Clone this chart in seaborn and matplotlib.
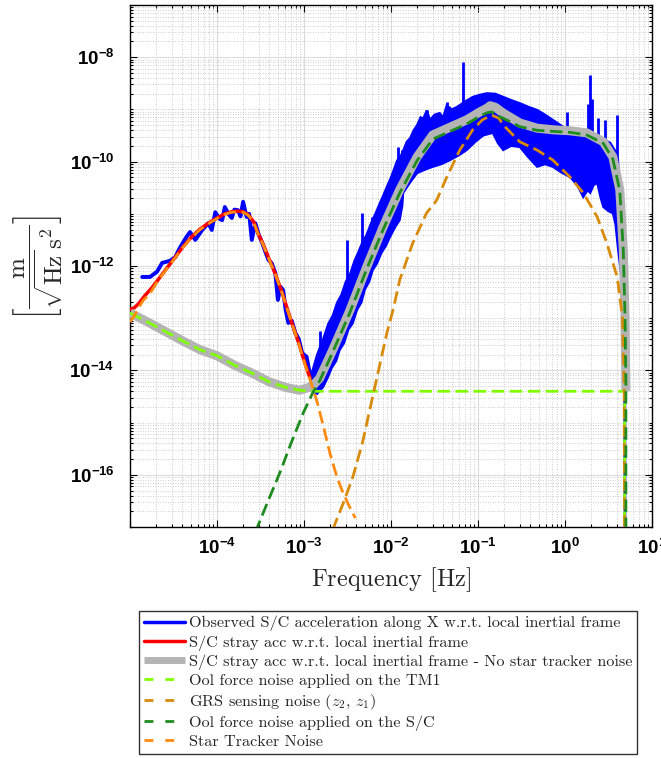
import numpy as np
import seaborn as sns
import matplotlib.pyplot as plt
from matplotlib.lines import Line2D
from matplotlib.ticker import FixedLocator, FuncFormatter, NullFormatter
from matplotlib.font_manager import FontProperties

# All values below are log10 numbers:
# frequency in Hz, amplitude spectral density in m / (sqrt(Hz) s^2)

# Observed S/C acceleration, low-frequency part (single wiggly line)
obs_low_f = [-4.86, -4.77, -4.69, -4.63, -4.54, -4.48, -4.43, -4.35, -4.31, -4.25,
             -4.17, -4.10, -4.06, -4.02, -3.97, -3.94, -3.91, -3.87, -3.83, -3.80,
             -3.76, -3.73, -3.70, -3.66, -3.63, -3.60, -3.56, -3.52, -3.48, -3.45,
             -3.41, -3.37, -3.33, -3.30, -3.27, -3.24, -3.21, -3.18, -3.14, -3.10,
             -3.06, -3.02, -2.97, -2.94, -2.91, -2.90, -2.87]
obs_low_v = [-12.21, -12.21, -12.11, -11.94, -11.90, -11.83, -11.66, -11.44, -11.35, -11.50,
             -11.31, -11.18, -11.31, -10.97, -11.10, -11.12, -10.87, -11.00, -11.08, -10.92,
             -10.93, -11.05, -10.77, -11.06, -11.00, -11.50, -11.18, -11.40, -11.56, -11.70,
             -11.88, -11.95, -12.13, -12.65, -12.40, -12.46, -12.85, -13.09, -13.05, -13.28,
             -13.40, -13.67, -13.74, -14.00, -14.13, -14.38, -14.10]

# Observed S/C acceleration, noisy band (upper / lower envelope)
obs_up_f = [-2.92, -2.85, -2.78, -2.72, -2.67, -2.62, -2.57, -2.52, -2.47, -2.42,
            -2.38, -2.33, -2.28, -2.23, -2.18, -2.13, -2.09, -2.04, -2.00, -1.96,
            -1.93, -1.89, -1.85, -1.82, -1.78, -1.74, -1.70, -1.66, -1.63, -1.59,
            -1.55, -1.50, -1.44, -1.40, -1.36, -1.30, -1.24, -1.15, -1.06, -0.98,
            -0.90, -0.80, -0.71, -0.62, -0.52, -0.42, -0.32, -0.23, -0.14, -0.05,
            0.02, 0.10, 0.21, 0.30, 0.37, 0.45, 0.52, 0.58, 0.61, 0.63,
            0.65, 0.67, 0.69, 0.695]
obs_up_v = [-14.10, -13.70, -13.40, -13.10, -12.95, -12.70, -12.55, -12.30, -12.15, -11.90,
            -11.75, -11.55, -11.40, -11.18, -11.00, -10.80, -10.65, -10.45, -10.30, -10.12,
            -9.98, -9.90, -9.75, -9.62, -9.55, -9.40, -9.30, -9.15, -9.18, -9.02,
            -9.20, -9.10, -9.07, -9.15, -8.92, -9.00, -8.95, -8.85, -8.76, -8.72,
            -8.69, -8.70, -8.76, -8.82, -8.88, -8.95, -9.01, -9.10, -9.20, -9.30,
            -9.38, -9.45, -9.40, -9.48, -9.53, -9.58, -9.64, -9.80, -9.97, -10.74,
            -11.69, -12.33, -13.50, -20.0]
obs_lo_f = [-2.92, -2.85, -2.78, -2.73, -2.68, -2.63, -2.59, -2.54, -2.49, -2.44,
            -2.39, -2.34, -2.30, -2.25, -2.21, -2.16, -2.11, -2.06, -2.01, -1.95,
            -1.90, -1.87, -1.86, -1.78, -1.70, -1.60, -1.52, -1.42, -1.32, -1.22,
            -1.13, -1.03, -0.94, -0.83, -0.77, -0.71, -0.62, -0.52, -0.42, -0.32,
            -0.23, -0.14, -0.05, 0.06, 0.14, 0.21, 0.26, 0.29, 0.33, 0.37,
            0.41, 0.44, 0.50, 0.55, 0.58, 0.61, 0.64, 0.66, 0.68, 0.69]
obs_lo_v = [-14.38, -14.45, -14.32, -14.15, -13.95, -13.82, -13.61, -13.48, -13.22, -13.10,
            -12.84, -12.70, -12.45, -12.30, -12.08, -11.95, -11.75, -11.62, -11.44, -11.25,
            -11.12, -10.85, -10.60, -10.40, -10.22, -10.15, -10.10, -10.05, -9.97, -9.88,
            -9.78, -9.62, -9.50, -9.45, -9.65, -9.78, -9.70, -9.72, -9.92, -10.10,
            -10.05, -10.10, -10.20, -10.30, -10.45, -10.68, -10.55, -10.60, -10.45, -10.41,
            -10.70, -10.87, -10.95, -10.99, -11.20, -11.69, -12.10, -12.33, -13.50, -20.0]

# Observed S/C acceleration, narrow spectral lines sticking out of the band
spike_f = [-2.82, -2.51, -2.33, -2.22, -1.92, -1.87, -1.72, -1.59, -1.47, -1.36,
           -1.17, 0.02, 0.27, 0.29, 0.31, 0.38, 0.46, 0.60]
spike_base = [-14.20, -13.00, -12.30, -11.90, -10.80, -10.60, -10.00, -9.60, -9.60, -9.40,
              -9.30, -9.80, -10.00, -10.00, -10.00, -10.00, -10.20, -10.30]
spike_top = [-13.25, -11.50, -10.98, -11.06, -9.72, -9.78, -9.55, -9.01, -9.20, -8.86,
             -8.09, -9.05, -8.90, -8.34, -8.80, -9.16, -9.20, -9.11]

# S/C stray acceleration w.r.t. local inertial frame
stray_f = [-5.00, -4.95, -4.90, -4.83, -4.75, -4.68, -4.58, -4.48, -4.39, -4.29,
           -4.20, -4.10, -4.00, -3.91, -3.83, -3.76, -3.70, -3.64, -3.58, -3.53,
           -3.47, -3.41, -3.33, -3.25, -3.14, -3.06, -2.99, -2.93]
stray_v = [-12.83, -12.80, -12.72, -12.57, -12.42, -12.27, -12.05, -11.83, -11.63, -11.44,
           -11.30, -11.18, -11.08, -11.00, -10.96, -10.95, -10.96, -11.02, -11.15, -11.37,
           -11.58, -11.83, -12.15, -12.52, -13.09, -13.48, -13.86, -14.15]

# S/C stray acceleration without star tracker noise
nost_f = [-5.00, -4.80, -4.60, -4.40, -4.20, -4.00, -3.80, -3.60, -3.40, -3.20,
          -3.05, -2.95, -2.88, -2.82, -2.67, -2.47, -2.28, -2.09, -1.90, -1.70,
          -1.52, -1.32, -1.13, -0.98, -0.89, -0.86, -0.80, -0.71, -0.52, -0.32,
          -0.14, 0.06, 0.25, 0.44, 0.55, 0.63, 0.67, 0.69, 0.70]
nost_v = [-12.90, -13.07, -13.25, -13.43, -13.60, -13.72, -13.90, -14.05, -14.22, -14.33,
          -14.38, -14.33, -14.26, -14.15, -13.61, -12.84, -12.02, -11.25, -10.54, -9.91,
          -9.49, -9.34, -9.20, -9.05, -8.97, -8.93, -8.96, -9.07, -9.26, -9.36,
          -9.39, -9.41, -9.45, -9.62, -9.91, -10.54, -11.69, -12.98, -14.40]

# OoI force noise applied on the TM1
tm1_f = [-5.00, -4.80, -4.60, -4.40, -4.20, -4.00, -3.80, -3.60, -3.40, -3.20,
         -3.05, -2.90, -2.50, -1.00, 0.00, 0.685, 0.685]
tm1_v = [-12.90, -13.07, -13.25, -13.43, -13.60, -13.72, -13.90, -14.05, -14.22, -14.33,
         -14.38, -14.40, -14.40, -14.40, -14.40, -14.40, -20.0]

# GRS sensing noise (z2, z1)
grs_f = [-2.67, -2.55, -2.44, -2.33, -2.21, -2.13, -2.05, -1.97, -1.90, -1.75,
         -1.59, -1.50, -1.47, -1.36, -1.21, -1.06, -0.95, -0.84, -0.76, -0.71,
         -0.52, -0.32, -0.14, 0.06, 0.21, 0.37, 0.48, 0.60, 0.66, 0.68, 0.69]
grs_v = [-17.05, -16.55, -16.05, -15.40, -14.50, -13.90, -13.30, -12.80, -12.27, -11.56,
         -10.98, -10.80, -10.72, -10.30, -9.78, -9.39, -9.20, -9.11, -9.17, -9.30,
         -9.62, -9.78, -9.97, -10.30, -10.60, -11.06, -11.56, -12.21, -12.98, -14.24, -20.0]

# OoI force noise applied on the S/C
sc_f = [-3.56, -3.40, -3.28, -3.15, -3.01, -2.90, -2.82, -2.67, -2.47, -2.28,
        -2.09, -1.90, -1.70, -1.52, -1.32, -1.13, -0.98, -0.89, -0.84, -0.76,
        -0.71, -0.52, -0.32, -0.14, 0.06, 0.25, 0.44, 0.55, 0.63, 0.67,
        0.69, 0.70, 0.70]
sc_v = [-17.10, -16.45, -15.97, -15.40, -14.82, -14.43, -14.20, -13.65, -12.88, -12.06,
        -11.30, -10.60, -9.98, -9.57, -9.42, -9.28, -9.13, -9.06, -9.05, -9.13,
        -9.17, -9.33, -9.40, -9.42, -9.44, -9.49, -9.65, -9.95, -10.56, -11.70,
        -12.98, -14.24, -20.0]

# Star tracker noise
star_f = [-5.00, -4.95, -4.90, -4.85, -4.77, -4.68, -4.58, -4.48, -4.39, -4.29,
          -4.20, -4.10, -4.00, -3.91, -3.83, -3.76, -3.70, -3.64, -3.58, -3.53,
          -3.47, -3.41, -3.33, -3.25, -3.14, -3.06, -2.99, -2.93, -2.85, -2.78,
          -2.70, -2.62, -2.55, -2.48, -2.41]
star_v = [-13.07, -12.95, -12.80, -12.66, -12.53, -12.28, -12.06, -11.84, -11.64, -11.45,
          -11.31, -11.19, -11.09, -11.01, -10.97, -10.96, -10.97, -11.03, -11.16, -11.38,
          -11.59, -11.84, -12.16, -12.53, -13.10, -13.49, -13.88, -14.18, -14.60, -15.05,
          -15.60, -16.05, -16.35, -16.60, -16.83]

legend_labels = [
    "Observed S/C acceleration along X w.r.t. local inertial frame",
    "S/C stray acc w.r.t. local inertial frame",
    "S/C stray acc w.r.t. local inertial frame - No star tracker noise",
    "Ool force noise applied on the TM1",
    r"GRS sensing noise $(z_2,\,z_1)$",
    "Ool force noise applied on the S/C",
    "Star Tracker Noise",
]

BLUE = "#0000ff"
RED = "#ff0000"
GRAY = "#b4b4b4"
LIME = "#80ff00"
GOLD = "#d88a0a"
GREEN = "#1f8c1f"
ORANGE = "#ff8a10"

sns.set_theme(style="ticks")
plt.rcParams["font.family"] = ["Liberation Sans", "DejaVu Sans"]
plt.rcParams["mathtext.fontset"] = "custom"
plt.rcParams["mathtext.rm"] = "Liberation Sans:bold"
plt.rcParams["mathtext.bf"] = "Liberation Sans:bold"
plt.rcParams["mathtext.it"] = "Liberation Sans:bold:italic"
plt.rcParams["mathtext.sf"] = "Liberation Sans:bold"


def p10(a):
    return np.power(10.0, np.asarray(a, dtype=float))


fig = plt.figure(figsize=(6.61, 7.58), dpi=100)
ax = fig.add_axes([130 / 661, 1 - 527 / 758, 522 / 661, 522 / 758])
ax.set_xscale("log")
ax.set_yscale("log")

dash = (0, (4.5, 2.0))

# observed acceleration: band + lines
ax.fill(np.r_[p10(obs_up_f), p10(obs_lo_f)[::-1]],
        np.r_[p10(obs_up_v), p10(obs_lo_v)[::-1]],
        color=BLUE, lw=1.5, zorder=2)
ax.vlines(p10(spike_f), p10(spike_base), p10(spike_top), color=BLUE, lw=2.0, zorder=2)
sns.lineplot(x=p10(obs_low_f), y=p10(obs_low_v), sort=False, estimator=None,
             color=BLUE, lw=2.8, ax=ax, zorder=2)

sns.lineplot(x=p10(stray_f), y=p10(stray_v), sort=False, estimator=None,
             color=RED, lw=2.5, ax=ax, zorder=3)
sns.lineplot(x=p10(nost_f), y=p10(nost_v), sort=False, estimator=None,
             color=GRAY, lw=6.5, ax=ax, zorder=3, solid_capstyle="butt")
sns.lineplot(x=p10(tm1_f), y=p10(tm1_v), sort=False, estimator=None,
             color=LIME, lw=2.0, linestyle=dash, ax=ax, zorder=4)
sns.lineplot(x=p10(grs_f), y=p10(grs_v), sort=False, estimator=None,
             color=GOLD, lw=2.0, linestyle=dash, ax=ax, zorder=4)
sns.lineplot(x=p10(sc_f), y=p10(sc_v), sort=False, estimator=None,
             color=GREEN, lw=2.0, linestyle=dash, ax=ax, zorder=4)
sns.lineplot(x=p10(star_f), y=p10(star_v), sort=False, estimator=None,
             color=ORANGE, lw=2.0, linestyle=dash, ax=ax, zorder=4)

ax.set_xlim(1e-5, 1e1)
ax.set_ylim(1e-17, 1e-7)

# ticks in MATLAB style
x_major = [10.0 ** k for k in range(-5, 2)]
x_minor = [m * 10.0 ** k for k in range(-5, 1) for m in range(2, 10)]
y_major = [10.0 ** k for k in range(-16, -7, 2)]
y_minor = [m * 10.0 ** k for k in range(-17, -7) for m in range(1, 10)
           if not (m == 1 and k % 2 == 0)]
ax.xaxis.set_major_locator(FixedLocator(x_major))
ax.xaxis.set_minor_locator(FixedLocator(x_minor))
ax.yaxis.set_major_locator(FixedLocator(y_major))
ax.yaxis.set_minor_locator(FixedLocator(y_minor))


def sci_label(v, pos):
    e = int(round(np.log10(v)))
    if e == -5:
        return ""
    return r"$\mathrm{10^{%d}}$" % e


ax.xaxis.set_major_formatter(FuncFormatter(sci_label))
ax.yaxis.set_major_formatter(FuncFormatter(sci_label))
ax.xaxis.set_minor_formatter(NullFormatter())
ax.yaxis.set_minor_formatter(NullFormatter())
ax.tick_params(which="both", direction="in", top=True, right=True,
               colors="black", labelsize=13.5, width=0.8)
ax.tick_params(which="major", length=5, pad=8)
ax.tick_params(which="minor", length=2.5)
ax.tick_params(axis="y", which="major", pad=11)

ax.grid(which="major", color="#dcdcdc", lw=0.8, ls="-", zorder=0)
ax.grid(which="minor", color="#bdbdbd", lw=0.6, ls=(0, (1, 2)), zorder=0)
ax.set_axisbelow(True)
for s in ax.spines.values():
    s.set_color("black")
    s.set_linewidth(1.0)

ax.set_xlabel(r"Frequency $[\mathrm{Hz}]$", family="cmr10", math_fontfamily="cm",
              fontsize=17.5, va="center")
ax.xaxis.set_label_coords(0.5, -0.1015)
ax.set_ylabel(r"$\left[\dfrac{\mathrm{m}}{\sqrt{\mathrm{Hz}}\,\mathrm{s}^2}\right]$",
              math_fontfamily="cm", fontsize=18, va="center")
ax.yaxis.set_label_coords(-0.176, 0.496)

# legend with MATLAB-like handles
dash_leg = (0, (3.2, 4.3))
handles = [
    Line2D([], [], color=BLUE, lw=2.5),
    Line2D([], [], color=RED, lw=2.5),
    Line2D([], [], color=GRAY, lw=5.0, solid_capstyle="butt"),
    Line2D([], [], color=LIME, lw=2.0, linestyle=dash_leg),
    Line2D([], [], color=GOLD, lw=2.0, linestyle=dash_leg),
    Line2D([], [], color=GREEN, lw=2.0, linestyle=dash_leg),
    Line2D([], [], color=ORANGE, lw=2.0, linestyle=dash_leg),
]
leg_font = FontProperties(family="cmr10", size=11.7, math_fontfamily="cm")
leg = fig.legend(handles, legend_labels, loc="upper left",
                 bbox_to_anchor=(139 / 661, 1 - 611 / 758), prop=leg_font,
                 frameon=True, fancybox=False, shadow=False, framealpha=1,
                 edgecolor="#333333", handlelength=2.5, handletextpad=0.25,
                 labelspacing=0.23, borderpad=0.3, borderaxespad=0)
leg.get_frame().set_linewidth(1.0)

fig.savefig("out.png", dpi=100)
